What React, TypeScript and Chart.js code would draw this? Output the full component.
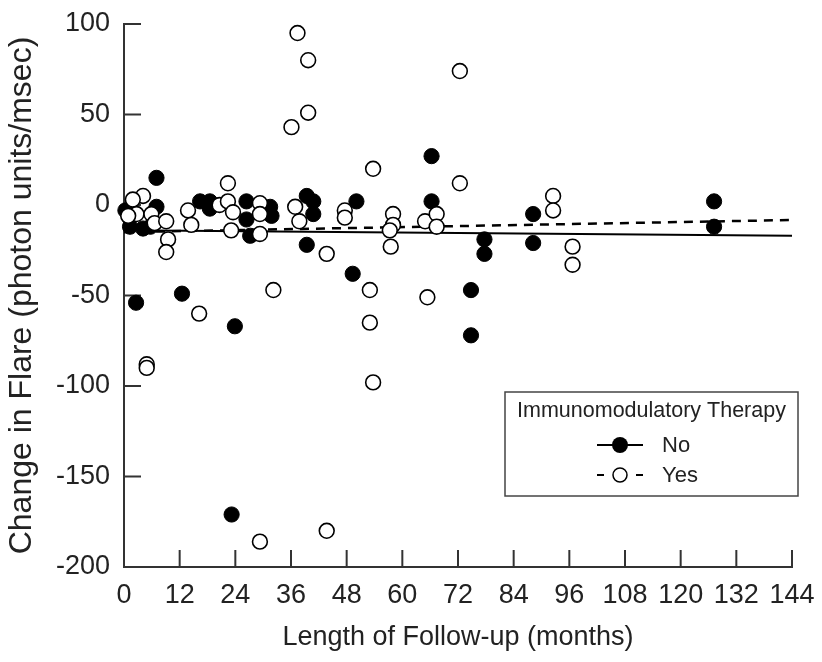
import React, { useEffect, useRef } from 'react';
import { Chart, registerables } from 'chart.js';

Chart.register(...registerables);

// Immunomodulatory Therapy: No (filled circles)
const noMonths = [0.3, 1.3, 1.3, 4.1, 5.7, 7, 7, 2.6, 12.5, 16.4, 18.5, 18.5, 23.9, 23.2, 26.4, 26.4, 27.2, 31.5, 31.8, 39.4, 40.8, 40.8, 39.4, 50.1, 49.3, 66.3, 66.3, 74.8, 74.8, 77.7, 77.7, 88.2, 88.2, 127.2, 127.2];
const noValues = [-3, -5, -12, -13, -12, 15, -1, -54, -49, 2, 2, -2, -67, -171, 2, -8, -17, -1, -6, 5, 2, -5, -22, 2, -38, 27, 2, -47, -72, -19, -27, -5, -21, 2, -12];

// Immunomodulatory Therapy: Yes (open circles)
const yesMonths = [37.4, 39.7, 39.7, 36.1, 22.4, 4.1, 1.9, 2.7, 5.9, 6.6, 9.1, 9.5, 9.1, 13.8, 14.5, 16.2, 4.9, 4.9, 20.6, 22.4, 23.5, 23.1, 29.3, 29.3, 29.3, 29.3, 32.2, 36.9, 37.8, 43.7, 43.7, 47.6, 47.6, 53.7, 53, 53, 53.7, 58, 58, 57.3, 57.5, 64.9, 65.4, 67.4, 67.4, 72.4, 72.4, 92.5, 92.5, 96.7, 96.7, 0.9];
const yesValues = [95, 80, 51, 43, 12, 5, 3, -5, -5, -10, -9, -19, -26, -3, -11, -60, -88, -90, 0, 2, -4, -14, 1, -5, -16, -186, -47, -1, -9, -27, -180, -3, -7, 20, -47, -65, -98, -5, -11, -14, -23, -9, -51, -5, -12, 74, 12, 5, -3, -23, -33, -6];

// Regression lines
const fitMonths = [0, 144];
const noFit = [-14, -17];
const yesFit = [-15, -8.3];

const xMin = 0, xMax = 144, xStep = 12;
const yMin = -200, yMax = 100, yStep = 50;

const legendTitle = 'Immunomodulatory Therapy';
const legendLabels = ['No', 'Yes'];
const xTitle = 'Length of Follow-up (months)';
const yTitle = 'Change in Flare (photon units/msec)';

const FONT = "'Liberation Sans', Arial, Helvetica, sans-serif";
const INK = '#222';
const AXIS = '#333';

const toPts = (xs: number[], ys: number[]) => xs.map((x, i) => ({ x, y: ys[i] }));

const inwardTicks = {
  id: 'inwardTicks',
  beforeDatasetsDraw(chart: any) {
    const { ctx, chartArea, scales } = chart;
    const xs = scales.x, ys = scales.y;
    ctx.save();
    ctx.strokeStyle = AXIS;
    ctx.lineWidth = 2;
    ctx.beginPath();
    for (let v = yMin; v <= yMax; v += yStep) {
      const y = ys.getPixelForValue(v);
      ctx.moveTo(chartArea.left, y);
      ctx.lineTo(chartArea.left + 17, y);
    }
    for (let v = xMin; v <= xMax; v += xStep) {
      const x = xs.getPixelForValue(v);
      ctx.moveTo(x, chartArea.bottom);
      ctx.lineTo(x, chartArea.bottom - 17);
    }
    ctx.stroke();
    ctx.restore();
  },
};

const boxLegend = {
  id: 'boxLegend',
  afterDraw(chart: any) {
    const { ctx } = chart;
    ctx.save();
    const bx = 505, by = 392, bw = 293, bh = 104;
    ctx.fillStyle = '#fff';
    ctx.fillRect(bx, by, bw, bh);
    ctx.strokeStyle = '#444';
    ctx.lineWidth = 1.5;
    ctx.strokeRect(bx, by, bw, bh);
    ctx.fillStyle = INK;
    ctx.font = `21.5px ${FONT}`;
    ctx.textAlign = 'center';
    ctx.textBaseline = 'middle';
    ctx.fillText(legendTitle, bx + bw / 2, 411);
    const rows = [445, 475];
    ctx.strokeStyle = '#000';
    ctx.lineWidth = 2;
    ctx.beginPath();
    ctx.moveTo(597, rows[0]);
    ctx.lineTo(643, rows[0]);
    ctx.stroke();
    ctx.beginPath();
    ctx.arc(620, rows[0], 8, 0, Math.PI * 2);
    ctx.fillStyle = '#000';
    ctx.fill();
    ctx.lineWidth = 2;
    ctx.beginPath();
    ctx.moveTo(597, rows[1]);
    ctx.lineTo(604, rows[1]);
    ctx.moveTo(636, rows[1]);
    ctx.lineTo(643, rows[1]);
    ctx.stroke();
    ctx.beginPath();
    ctx.arc(620, rows[1], 7, 0, Math.PI * 2);
    ctx.fillStyle = '#fff';
    ctx.fill();
    ctx.lineWidth = 1.5;
    ctx.stroke();
    ctx.fillStyle = INK;
    ctx.textAlign = 'left';
    ctx.font = `22px ${FONT}`;
    ctx.fillText(legendLabels[0], 662, rows[0] + 1);
    ctx.fillText(legendLabels[1], 662, rows[1] + 1);
    ctx.restore();
  },
};

export default function App() {
  const ref = useRef<HTMLCanvasElement>(null);
  useEffect(() => {
    document.body.style.margin = '0';
    const chart = new Chart(ref.current as HTMLCanvasElement, {
      type: 'scatter',
      data: {
        datasets: [
          {
            label: 'Yes',
            data: toPts(yesMonths, yesValues),
            backgroundColor: '#fff',
            borderColor: '#000',
            borderWidth: 1.6,
            pointRadius: 7.4,
            order: 0,
            clip: false,
          } as any,
          {
            label: 'No',
            data: toPts(noMonths, noValues),
            backgroundColor: '#000',
            borderColor: '#000',
            borderWidth: 1,
            pointRadius: 7.6,
            order: 1,
            clip: false,
          } as any,
          {
            label: 'No fit',
            data: toPts(fitMonths, noFit),
            showLine: true,
            borderColor: '#000',
            borderWidth: 2,
            pointRadius: 0,
            order: 3,
          } as any,
          {
            label: 'Yes fit',
            data: toPts(fitMonths, yesFit),
            showLine: true,
            borderColor: '#000',
            borderWidth: 2.5,
            borderDash: [9, 7],
            pointRadius: 0,
            order: 2,
          } as any,
        ],
      },
      options: {
        animation: false,
        responsive: false,
        events: [],
        layout: { padding: { left: 0, right: 30, top: 24, bottom: 0 } },
        plugins: { legend: { display: false }, tooltip: { enabled: false } },
        scales: {
          x: {
            type: 'linear',
            min: xMin,
            max: xMax,
            afterFit: (s: any) => { s.height = 95; s.paddingLeft = 0; s.paddingRight = 0; },
            ticks: {
              stepSize: xStep,
              autoSkip: false,
              maxRotation: 0,
              padding: 12,
              color: INK,
              font: { family: FONT, size: 27 },
              callback: (v: any) => String(v),
            },
            grid: { display: true, drawOnChartArea: false, drawTicks: false },
            border: { display: true, color: AXIS, width: 2 },
            title: {
              display: true,
              text: xTitle,
              color: INK,
              font: { family: FONT, size: 27 },
              padding: { top: 0, bottom: 8 },
            },
          },
          y: {
            type: 'linear',
            min: yMin,
            max: yMax,
            afterFit: (s: any) => { s.width = 124; s.paddingTop = 0; s.paddingBottom = 0; },
            ticks: {
              stepSize: yStep,
              padding: 14,
              color: INK,
              font: { family: FONT, size: 27 },
              callback: (v: any) => String(v),
            },
            grid: { display: true, drawOnChartArea: false, drawTicks: false },
            border: { display: true, color: AXIS, width: 2 },
            title: {
              display: true,
              text: yTitle,
              color: INK,
              font: { family: FONT, size: 32 },
              padding: { top: 3, bottom: 0 },
            },
          },
        },
      },
      plugins: [inwardTicks, boxLegend],
    });
    return () => chart.destroy();
  }, []);
  return (
    <div style={{ width: 822, height: 662 }}>
      <canvas ref={ref} width={822} height={662} style={{ display: 'block' }} />
    </div>
  );
}
